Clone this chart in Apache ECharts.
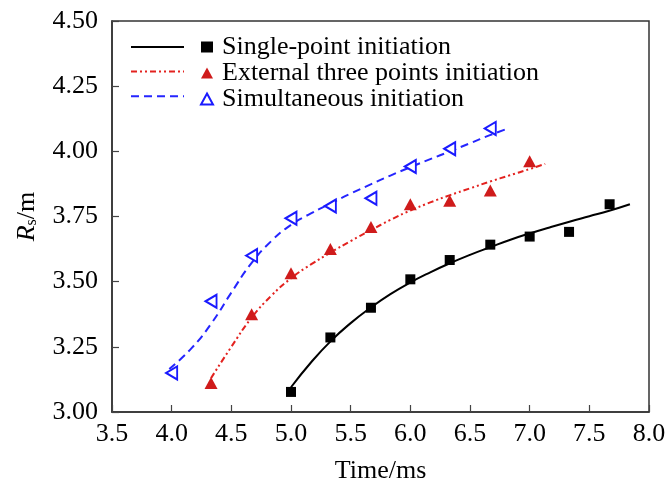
<!DOCTYPE html>
<html>
<head>
<meta charset="utf-8">
<script src="https://cdn.jsdelivr.net/npm/echarts@6/dist/echarts.min.js"></script>
<style>html,body{margin:0;padding:0;background:#fff}#c{width:665px;height:483px}</style>
</head>
<body>
<div id="c"></div>
<script>
// ---- data ----
const xTicks = [3.5, 4.0, 4.5, 5.0, 5.5, 6.0, 6.5, 7.0, 7.5, 8.0];
const yTicks = [3.00, 3.25, 3.50, 3.75, 4.00, 4.25, 4.50];
const seriesNames = ['Single-point initiation', 'External three points initiation', 'Simultaneous initiation'];

const singleX = [5.0, 5.33, 5.67, 6.0, 6.33, 6.67, 7.0, 7.33, 7.67];
const singleY = [3.077, 3.286, 3.400, 3.509, 3.583, 3.642, 3.673, 3.691, 3.797];
const externalX = [4.33, 4.67, 5.0, 5.33, 5.67, 6.0, 6.33, 6.67, 7.0];
const externalY = [3.111, 3.375, 3.532, 3.625, 3.710, 3.797, 3.810, 3.850, 3.962];
const simulX = [4.0, 4.33, 4.67, 5.0, 5.33, 5.67, 6.0, 6.33, 6.67];
const simulY = [3.150, 3.425, 3.600, 3.743, 3.790, 3.820, 3.942, 4.010, 4.088];

const singleFitX = [5.0, 5.167, 5.333, 5.5, 5.667, 5.833, 6.0, 6.167, 6.333, 6.5, 6.667, 6.833, 7.0, 7.167, 7.333, 7.5, 7.667, 7.84];
const singleFitY = [3.095, 3.190, 3.272, 3.341, 3.400, 3.452, 3.497, 3.536, 3.571, 3.603, 3.632, 3.660, 3.685, 3.708, 3.730, 3.751, 3.772, 3.797];
const externalFitX = [4.33, 4.5, 4.667, 4.833, 5.0, 5.167, 5.333, 5.5, 5.667, 5.833, 6.0, 6.167, 6.333, 6.5, 6.667, 6.833, 7.0, 7.13];
const externalFitY = [3.130, 3.250, 3.360, 3.445, 3.513, 3.566, 3.612, 3.656, 3.697, 3.737, 3.773, 3.804, 3.832, 3.858, 3.884, 3.908, 3.932, 3.952];
const simulFitX = [3.98, 4.167, 4.333, 4.5, 4.667, 4.833, 5.0, 5.167, 5.333, 5.5, 5.667, 5.833, 6.0, 6.167, 6.333, 6.5, 6.667, 6.82];
const simulFitY = [3.165, 3.245, 3.340, 3.458, 3.570, 3.655, 3.718, 3.762, 3.800, 3.838, 3.873, 3.907, 3.939, 3.970, 4.000, 4.031, 4.062, 4.088];

const colBlack = '#000000', colRed = '#cf1b1b', colBlue = '#1a1aff';
const fitNames = ['fit1', 'fit2', 'fit3'];

function pairs(xs, ys) { return xs.map((x, i) => [x, ys[i]]); }

const FONT = 'Liberation Serif, "Times New Roman", serif';
const FS = 26;
const chart = echarts.init(document.getElementById('c'), null, {renderer: 'canvas'});
chart.setOption({
  animation: false,
  backgroundColor: '#fff',
  textStyle: {fontFamily: FONT, color: '#000'},
  grid: {left: 112, right: 16, top: 21, bottom: 71, show: true, borderColor: '#333', borderWidth: 1.5, outerBoundsMode: 'none'},
  legend: [
    {
      data: fitNames, left: 130, top: 40, orient: 'vertical', padding: 0,
      itemWidth: 53, itemHeight: 14, itemGap: 12,
      formatter: () => '', selectedMode: false,
      itemStyle: {opacity: 0},
      textStyle: {fontSize: 1}
    },
    {
      data: seriesNames, left: 200, top: 34, orient: 'vertical', padding: 0,
      itemWidth: 12, itemHeight: 11, itemGap: 0, selectedMode: false,
      textStyle: {fontFamily: FONT, fontSize: FS, color: '#000', lineHeight: 26, padding: [0, 0, 0, 4]}
    }
  ],
  xAxis: {
    type: 'value', min: xTicks[0], max: xTicks[xTicks.length - 1], interval: 0.5,
    name: 'Time/ms', nameLocation: 'middle', nameGap: 46,
    nameTextStyle: {fontFamily: FONT, fontSize: FS, color: '#000'},
    axisLine: {show: true, onZero: false, lineStyle: {color: '#333', width: 1.5}},
    axisTick: {show: true, inside: true, length: 7, lineStyle: {color: '#444', width: 1.2}},
    axisLabel: {fontFamily: FONT, fontSize: FS, color: '#000', margin: 9, formatter: v => v.toFixed(1)},
    splitLine: {show: false}
  },
  yAxis: {
    type: 'value', min: yTicks[0], max: yTicks[yTicks.length - 1], interval: 0.25,
    name: '{i|R}{s|s}/m', nameLocation: 'middle', nameGap: 72, nameRotate: 90,
    nameTextStyle: {fontFamily: FONT, fontSize: FS, color: '#000',
      rich: {i: {fontFamily: FONT, fontSize: FS, fontStyle: 'italic'}, s: {fontFamily: FONT, fontSize: 16, verticalAlign: 'bottom', padding: [8, 0, 0, 0]}}},
    axisLine: {show: true, onZero: false, lineStyle: {color: '#333', width: 1.5}},
    axisTick: {show: true, inside: true, length: 7, lineStyle: {color: '#444', width: 1.2}},
    axisLabel: {fontFamily: FONT, fontSize: FS, color: '#000', margin: 14, formatter: v => v.toFixed(2)},
    splitLine: {show: false}
  },
  series: [
    {name: fitNames[0], type: 'line', data: pairs(singleFitX, singleFitY), smooth: true, symbol: 'none', color: colBlack,
      lineStyle: {color: colBlack, width: 2, type: 'solid'}, z: 3},
    {name: fitNames[1], type: 'line', data: pairs(externalFitX, externalFitY), smooth: true, symbol: 'none', color: colRed,
      lineStyle: {color: '#e3221f', width: 2, type: [6, 3, 2, 3, 2, 3]}, z: 3},
    {name: fitNames[2], type: 'line', data: pairs(simulFitX, simulFitY), smooth: true, symbol: 'none', color: colBlue,
      lineStyle: {color: '#2525ff', width: 2, type: [8, 5]}, z: 3},
    {name: seriesNames[0], type: 'scatter', data: pairs(singleX, singleY), symbol: 'rect', symbolSize: 10,
      itemStyle: {color: colBlack, opacity: 1}, z: 4},
    {name: seriesNames[1], type: 'scatter', data: pairs(externalX, externalY), symbol: 'triangle', symbolSize: [13, 12],
      itemStyle: {color: colRed, opacity: 1}, z: 4},
    {name: seriesNames[2], type: 'scatter', data: pairs(simulX, simulY), symbol: 'triangle', symbolSize: [13, 11], symbolRotate: 90,
      itemStyle: {color: '#ffffff', borderColor: colBlue, borderWidth: 2, opacity: 1}, z: 4}
  ]
});
</script>
</body>
</html>
